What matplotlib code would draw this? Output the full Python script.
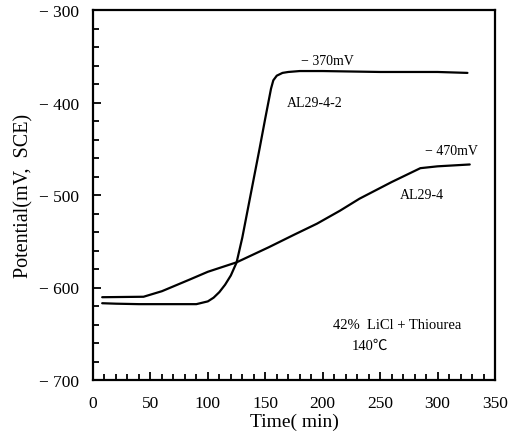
import matplotlib
matplotlib.use("Agg")
import matplotlib.pyplot as plt
from matplotlib.ticker import MultipleLocator

plt.rcParams['font.family'] = ['Liberation Serif', 'Noto Sans CJK SC', 'DejaVu Serif']

# Curve AL29-4-2 (fast transition)
t_fast = [8, 20, 40, 60, 80, 90, 100, 105, 110, 115, 120, 125, 130, 135, 140, 145,
          150, 155, 157, 160, 165, 170, 180, 200, 250, 300, 326]
v_fast = [-617, -617.5, -618, -618, -618, -618, -615, -611, -605, -597, -587, -573,
          -546, -514, -482, -450, -417, -385, -376, -371, -368, -367, -366, -366,
          -367, -367, -368]

# Curve AL29-4 (slow rise)
t_slow = [8, 44, 60, 84, 100, 125, 153, 175, 195, 215, 232, 260, 285, 300, 328]
v_slow = [-610.5, -610, -604, -591.5, -583, -572.8, -556.5, -543, -531, -517, -504,
          -486, -471, -469, -467]

x_ticks = [0, 50, 100, 150, 200, 250, 300, 350]
y_ticks = [-700, -600, -500, -400, -300]
y_ticklabels = ["\u2212 700", "\u2212 600", "\u2212 500", "\u2212 400", "\u2212 300"]

fig = plt.figure(figsize=(5.2, 4.35), dpi=100)
ax = fig.add_axes([93/520, 1-381/435, (495-93)/520, (381-11)/435])

ax.plot(t_fast, v_fast, color='black', lw=1.6, solid_capstyle='round')
ax.plot(t_slow, v_slow, color='black', lw=1.6, solid_capstyle='round')

ax.set_xlim(0, 350)
ax.set_ylim(-700, -300)
ax.set_xticks(x_ticks)
ax.set_xticklabels([str(v) for v in x_ticks])
ax.set_yticks(y_ticks)
ax.set_yticklabels(y_ticklabels)
ax.xaxis.set_minor_locator(MultipleLocator(10))
ax.yaxis.set_minor_locator(MultipleLocator(20))
ax.tick_params(which='both', direction='in', top=False, right=False,
               labelsize=12.5, width=1.3)
ax.tick_params(axis='x', which='major', pad=11)
ax.tick_params(axis='y', which='major', pad=10)
ax.tick_params(which='major', length=6)
ax.tick_params(which='minor', length=4)
for s in ax.spines.values():
    s.set_linewidth(1.6)

ax.set_xlabel("Time( min)", fontsize=14, labelpad=1)
ax.set_ylabel("Potential(mV,  SCE)", fontsize=14.5, labelpad=4)

ax.text(204, -355, "\u2212 370mV", fontsize=10, ha='center', va='center')
ax.text(193, -399.5, "AL29-4-2", fontsize=10, ha='center', va='center')
ax.text(312, -452, "\u2212 470mV", fontsize=10, ha='center', va='center')
ax.text(286, -500, "AL29-4", fontsize=10, ha='center', va='center')
ax.text(209, -640.5, "42%  LiCl + Thiourea", fontsize=10.5, ha='left', va='center')
ax.text(225, -663, "140\u2103", fontsize=10.5, ha='left', va='center')

fig.savefig("out.png", dpi=100)
